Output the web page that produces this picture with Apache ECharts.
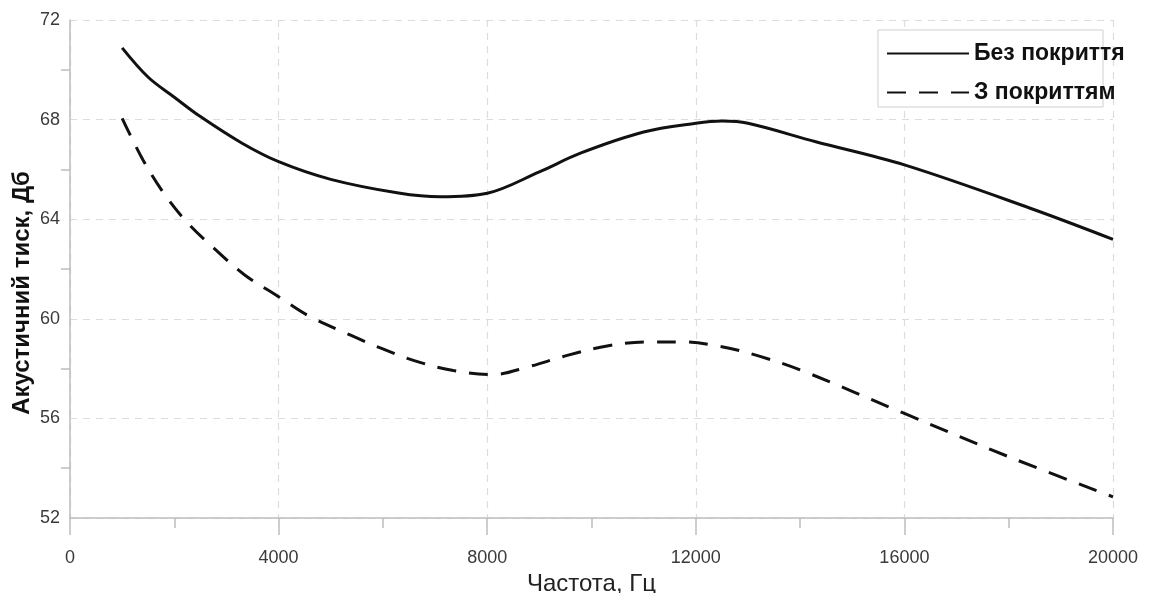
<!DOCTYPE html>
<html>
<head>
<meta charset="utf-8">
<script src="https://cdn.jsdelivr.net/npm/echarts@6/dist/echarts.min.js"></script>
<style>
html,body{margin:0;padding:0;background:#fff;}
#chart{width:1155px;height:593px;}
</style>
</head>
<body>
<div id="chart"></div>
<script>
const seriesNames = ['Без покриття', 'З покриттям'];
const freqNoCoat = [1000, 1500, 2000, 2500, 3300, 4000, 5000, 6300, 7100, 8000, 9000, 9800, 11000, 12000, 12500, 13000, 14300, 16000, 18400, 20000];
const dbNoCoat   = [70.88, 69.7, 68.9, 68.12, 67.05, 66.31, 65.6, 65.05, 64.9, 65.04, 65.9, 66.66, 67.5, 67.85, 67.94, 67.85, 67.11, 66.18, 64.45, 63.19];
const freqCoat = [1000, 1400, 1800, 2260, 2800, 3350, 4000, 4550, 5370, 5950, 6600, 7350, 8100, 8800, 9500, 10300, 11060, 11750, 12500, 13200, 14000, 16000, 18000, 20000];
const dbCoat   = [68.05, 66.38, 65.04, 63.84, 62.76, 61.76, 60.89, 60.15, 59.35, 58.83, 58.32, 57.92, 57.76, 58.08, 58.51, 58.91, 59.07, 59.07, 58.88, 58.51, 57.95, 56.2, 54.46, 52.85];
const xAxisTitle = 'Частота, Гц';
const yAxisTitle = 'Акустичний тиск, Дб';

const pairs = (xs, ys) => xs.map((x, i) => [x, ys[i]]);

const chart = echarts.init(document.getElementById('chart'), null, {renderer: 'canvas'});
const axisGray = '#bdbdbd';
const font = 'Liberation Sans, Arial, sans-serif';
chart.setOption({
  backgroundColor: '#fff',
  animation: false,
  textStyle: {fontFamily: font},
  grid: {left: 70, right: 42, top: 20, bottom: 75, containLabel: false, outerBoundsMode: 'none'},
  graphic: [{
    type: 'rect',
    shape: {x: 878, y: 30, width: 225, height: 77},
    style: {fill: '#fff', stroke: '#cfcfcf', lineWidth: 1},
    z: 50
  }],
  legend: {
    orient: 'vertical',
    left: 886,
    top: 42,
    itemWidth: 82,
    itemHeight: 14,
    itemGap: 16,
    padding: 0,
    z: 60,
    itemStyle: {opacity: 0},
    textStyle: {fontSize: 23, fontWeight: 'bold', color: '#111', fontFamily: font},
    data: seriesNames
  },
  xAxis: {
    type: 'value',
    min: 0, max: 20000, interval: 4000,
    name: xAxisTitle,
    nameLocation: 'middle',
    nameGap: 52,
    nameTextStyle: {fontSize: 24, color: '#222'},
    axisLine: {show: true, lineStyle: {color: axisGray, width: 1.5}},
    axisTick: {show: true, length: 17, lineStyle: {color: axisGray, width: 1.5}},
    minorTick: {show: true, splitNumber: 2, length: 10, lineStyle: {color: axisGray, width: 1.5}},
    axisLabel: {fontSize: 18, color: '#3a3a3a', margin: 31, formatter: v => String(v)},
    splitLine: {show: true, lineStyle: {color: '#dcdcdc', type: [7, 6], width: 1.2}}
  },
  yAxis: {
    type: 'value',
    min: 52, max: 72, interval: 4,
    name: yAxisTitle,
    nameLocation: 'middle',
    nameGap: 36,
    nameMoveOverlap: false,
    nameTextStyle: {fontSize: 24, fontWeight: 'bold', color: '#111', padding: [0, 48, 0, 0]},
    axisLine: {show: true, lineStyle: {color: axisGray, width: 1.5}},
    axisTick: {show: false},
    minorTick: {show: true, splitNumber: 2, length: 9, lineStyle: {color: axisGray, width: 1.5}},
    axisLabel: {fontSize: 18, color: '#3a3a3a', margin: 10, formatter: v => String(v)},
    splitLine: {show: true, lineStyle: {color: '#dcdcdc', type: [7, 6], width: 1.2}}
  },
  series: [
    {
      name: seriesNames[0],
      type: 'line',
      data: pairs(freqNoCoat, dbNoCoat),
      smooth: 0.35,
      symbol: 'none',
      lineStyle: {color: '#111', width: 3},
      itemStyle: {color: '#111'},
      z: 10
    },
    {
      name: seriesNames[1],
      type: 'line',
      data: pairs(freqCoat, dbCoat),
      smooth: 0.35,
      symbol: 'none',
      lineStyle: {color: '#111', width: 3, type: [19, 13]},
      itemStyle: {color: '#111'},
      z: 10
    }
  ]
});
</script>
</body>
</html>
